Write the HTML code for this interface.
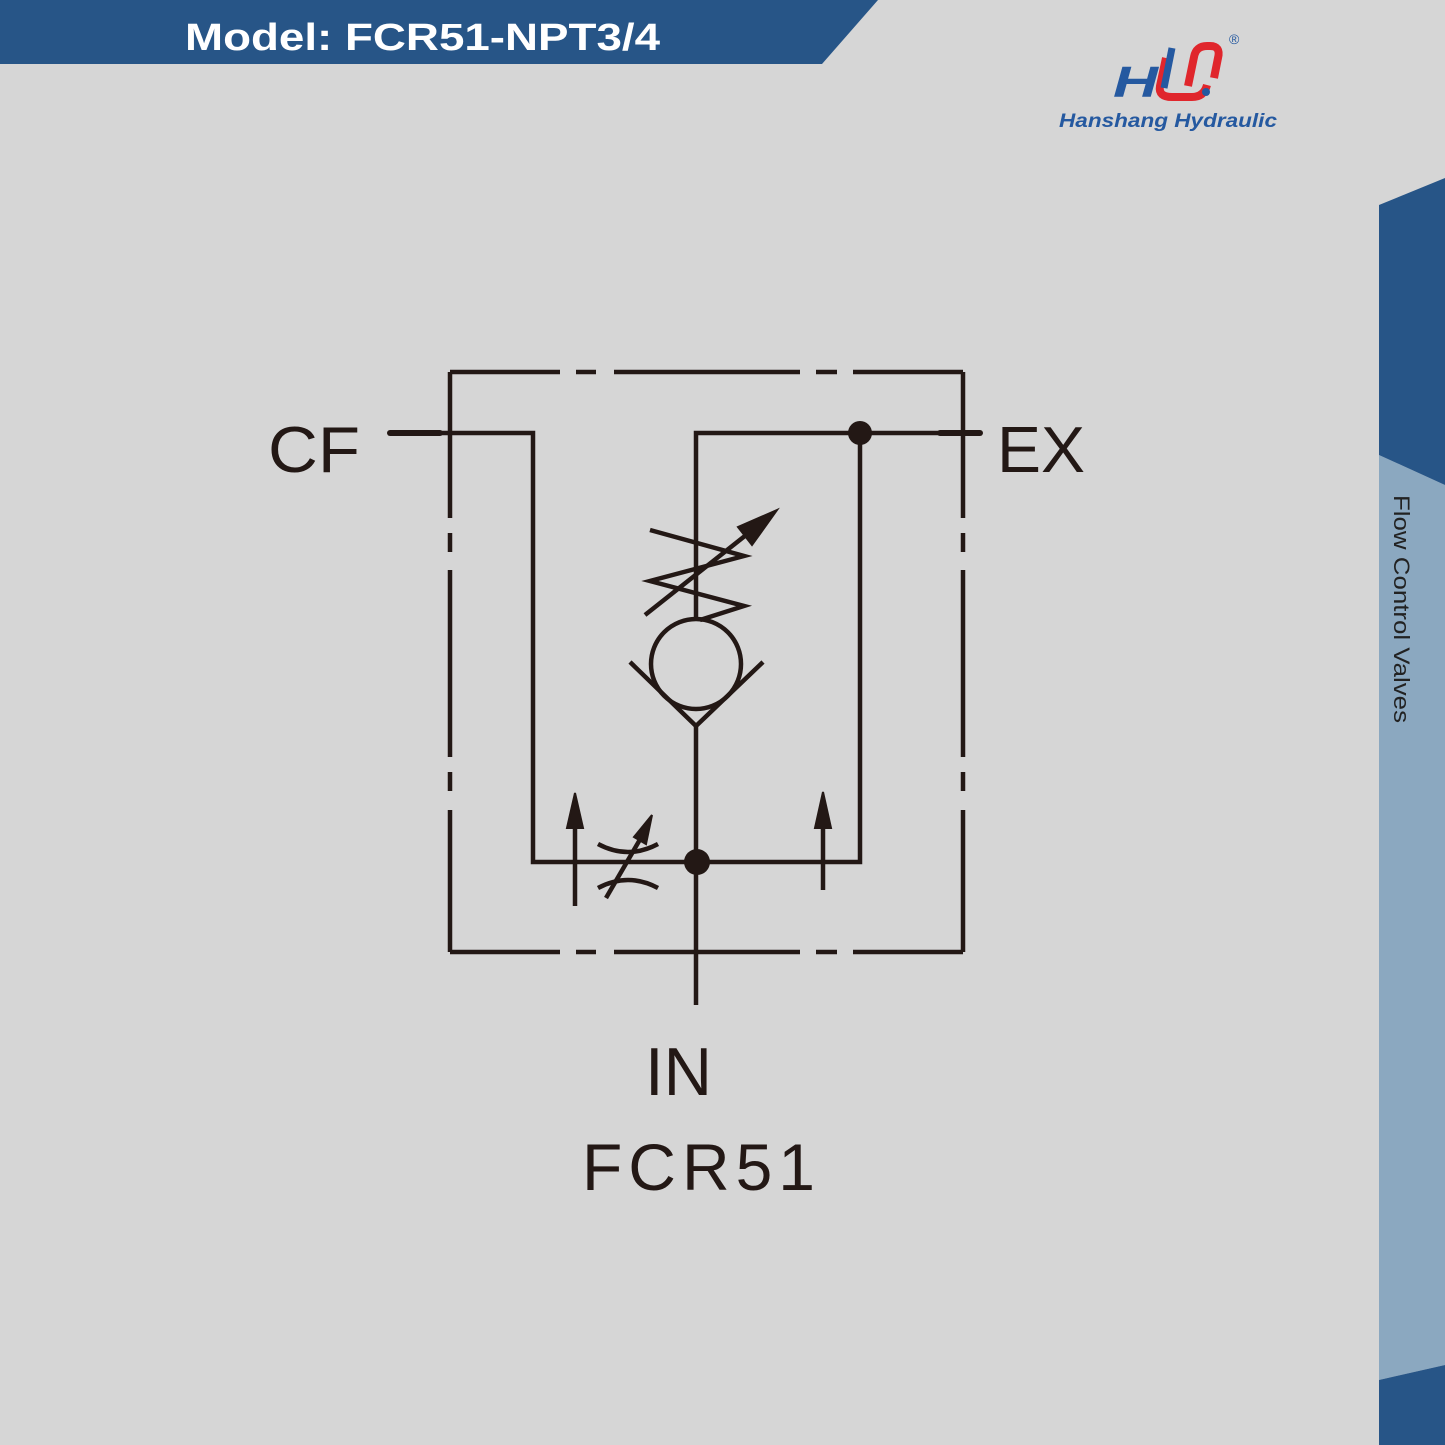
<!DOCTYPE html>
<html><head><meta charset="utf-8"><style>
html,body{margin:0;padding:0;background:#d6d6d6;}
svg{display:block;}
</style></head><body>
<svg width="1445" height="1445" viewBox="0 0 1445 1445" xmlns="http://www.w3.org/2000/svg">
<rect width="1445" height="1445" fill="#d6d6d6"/>
<!-- header -->
<polygon points="0,0 878,0 822,64 0,64" fill="#275587"/>
<text x="185" y="50" font-family="Liberation Sans, sans-serif" font-weight="bold" font-size="38" fill="#fff" textLength="475" lengthAdjust="spacingAndGlyphs">Model: FCR51-NPT3/4</text>
<!-- logo -->
<g>
<text x="1113" y="97" font-family="Liberation Sans, sans-serif" font-weight="bold" font-style="italic" font-size="44" fill="#2559a0" textLength="45" lengthAdjust="spacingAndGlyphs">H</text>
<path d="M1166,58 L1160,86 Q1158,97 1172,97 L1192,97 Q1204,97 1207,85" fill="none" stroke="#e0262c" stroke-width="8"/>
<path d="M1188,86 L1194,57 Q1196,46 1207,46 L1210,46 Q1221,46 1218,58 L1214,78" fill="none" stroke="#e0262c" stroke-width="8"/>
<path d="M1172,48 L1164,88" stroke="#2559a0" stroke-width="7"/>
<circle cx="1206" cy="92" r="4" fill="#2559a0"/>
<text x="1229" y="44" font-family="Liberation Sans, sans-serif" font-size="14" fill="#2559a0">®</text>
<text x="1059" y="127" font-family="Liberation Sans, sans-serif" font-weight="bold" font-style="italic" font-size="19" fill="#2559a0" textLength="218" lengthAdjust="spacingAndGlyphs">Hanshang Hydraulic</text>
</g>
<!-- sidebar -->
<polygon points="1379,455 1445,485 1445,1365 1379,1380" fill="#8ba8c0"/>
<polygon points="1379,205 1445,178 1445,485 1379,455" fill="#275587"/>
<polygon points="1379,1380 1445,1365 1445,1445 1379,1445" fill="#275587"/>
<text transform="translate(1394,495) rotate(90)" font-family="Liberation Sans, sans-serif" font-size="22" fill="#222" textLength="228" lengthAdjust="spacingAndGlyphs">Flow Control Valves</text>
<!-- diagram -->
<g stroke="#231815" stroke-width="4.5" fill="none" stroke-linecap="butt">
<path d="M450,372 H560 M576,372 H596 M614,372 H800 M816,372 H837 M853,372 H963"/>
<path d="M450,952 H560 M576,952 H596 M614,952 H800 M816,952 H837 M853,952 H963"/>
<path d="M450,372 V518 M450,533 V552 M450,570 V757 M450,772 V791 M450,810 V952"/>
<path d="M963,372 V518 M963,533 V552 M963,570 V757 M963,772 V791 M963,810 V952"/>
<path d="M389,433 H533 V862 H860 V433"/>
<path d="M696,1005 V726 M696,620 V433 H980" />
<path d="M390,433 H440" stroke-width="6" stroke-linecap="round"/>
<path d="M940,433 H980" stroke-width="6" stroke-linecap="round"/>
<circle cx="696" cy="664" r="45"/>
<path d="M630,662 L696,726 L763,662"/>
<path d="M650,530 L744,556 L650,581 L744,606 L700,620" stroke-linejoin="miter"/>
<path d="M645,615 L760,524"/>
<polygon points="777,510 738,527 752,545" fill="#231815" stroke-width="2"/>
<path d="M598,844 Q628,860 658,844"/>
<path d="M598,888 Q628,872 658,888"/>
<path d="M606,898 L642,836"/>
<polygon points="652,815 634,837 646,844" fill="#231815" stroke-width="2"/>
<path d="M575,906 V822"/>
<polygon points="575,793 567,828 583,828" fill="#231815" stroke-width="2"/>
<path d="M823,890 V822"/>
<polygon points="823,792 815,828 831,828" fill="#231815" stroke-width="2"/>
</g>
<circle cx="860" cy="433" r="12" fill="#231815"/>
<circle cx="697" cy="862" r="13" fill="#231815"/>
<g font-family="Liberation Sans, sans-serif" fill="#231815">
<text x="268" y="472" font-size="65" textLength="92" lengthAdjust="spacingAndGlyphs">CF</text>
<text x="997" y="472" font-size="65" textLength="88" lengthAdjust="spacingAndGlyphs">EX</text>
<text x="645" y="1095" font-size="68" textLength="67" lengthAdjust="spacingAndGlyphs">IN</text>
<text x="582" y="1190" font-size="66" textLength="233" lengthAdjust="spacing">FCR51</text>
</g>
</svg>
</body></html>
